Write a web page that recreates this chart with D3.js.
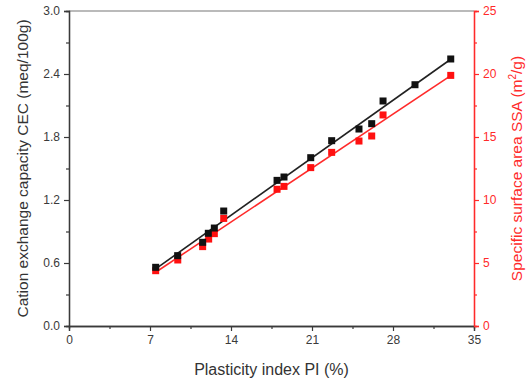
<!DOCTYPE html>
<html>
<head>
<meta charset="utf-8">
<script src="https://cdn.jsdelivr.net/npm/d3@7"></script>
<style>
  body { margin: 0; background: #fff; }
  text { font-family: "Liberation Sans", Arial, sans-serif; }
</style>
</head>
<body>
<svg width="532" height="385"></svg>
<script>
// plasticity index PI (%)
const piCec = [7.49, 9.39, 11.55, 12.04, 12.56, 13.37, 17.98, 18.58, 20.89, 22.70, 25.06, 26.16, 27.14, 29.90, 32.99]
const cec = [0.559, 0.670, 0.797, 0.883, 0.933, 1.095, 1.387, 1.419, 1.603, 1.765, 1.876, 1.927, 2.143, 2.298, 2.543]
const piSsa = [7.49, 9.40, 11.55, 12.07, 12.56, 13.37, 17.98, 18.58, 20.89, 22.70, 25.06, 26.16, 27.14, 32.99]
const ssa = [4.39, 5.24, 6.30, 6.90, 7.33, 8.54, 10.85, 11.08, 12.57, 13.78, 14.68, 15.08, 16.75, 19.89]

const xTicks = [0, 7, 14, 21, 28, 35]
const cecTicks = [0, 0.6, 1.2, 1.8, 2.4, 3.0]
const ssaTicks = [0, 5, 10, 15, 20, 25]

const svg = d3.select("svg")
const margin = {left: 69, right: 58, top: 11, bottom: 59}
const width = +svg.attr("width") - margin.left - margin.right,
    height = +svg.attr("height") - margin.top - margin.bottom

const axisColor = "#3a3a3a", red = "#ff2a2a"

const x = d3.scaleLinear().domain([0, 35]).range([0, width])
const yL = d3.scaleLinear().domain([0, 3]).range([height, 0])
const yR = d3.scaleLinear().domain([0, 25]).range([height, 0])

const g = svg.append("g").attr("transform", `translate(${margin.left},${margin.top})`)

// least squares fit
function fit(xs, ys) {
    const mx = d3.mean(xs), my = d3.mean(ys)
    let sxy = 0, sxx = 0
    xs.forEach((v, i) => { sxy += (v - mx) * (ys[i] - my); sxx += (v - mx) * (v - mx) })
    const b = sxy / sxx
    return v => my + b * (v - mx)
}

////////////////////////
// axes
function styleAxis(sel, color) {
    sel.select(".domain").attr("stroke", color).attr("stroke-width", 1.3)
    sel.selectAll(".tick line").attr("stroke", color).attr("stroke-width", 1.2)
    sel.selectAll(".tick text").attr("fill", color).style("font-size", "12px")
}

// minor ticks first
g.append("g").attr("transform", `translate(0,${height})`)
    .call(d3.axisBottom(x).tickValues(d3.range(3.5, 35, 7)).tickSize(3).tickFormat(""))
    .call(s => styleAxis(s, axisColor))
g.append("g")
    .call(d3.axisLeft(yL).tickValues(d3.range(0.3, 3, 0.6)).tickSize(3).tickFormat(""))
    .call(s => styleAxis(s, axisColor))
g.append("g").attr("transform", `translate(${width},0)`)
    .call(d3.axisRight(yR).tickValues(d3.range(2.5, 25, 5)).tickSize(3).tickFormat(""))
    .call(s => styleAxis(s, red))

g.append("line").attr("x1", 0).attr("x2", width).attr("y1", 0).attr("y2", 0)
    .attr("stroke", "#777").attr("stroke-width", 1.2)

g.append("g").attr("transform", `translate(0,${height})`)
    .call(d3.axisBottom(x).tickValues(xTicks).tickSize(5).tickPadding(4).tickFormat(d3.format("d")))
    .call(s => styleAxis(s, axisColor))
g.append("g")
    .call(d3.axisLeft(yL).tickValues(cecTicks).tickSize(5).tickPadding(4).tickFormat(d3.format(".1f")))
    .call(s => styleAxis(s, axisColor))
g.append("g").attr("transform", `translate(${width},0)`)
    .call(d3.axisRight(yR).tickValues(ssaTicks).tickSize(5).tickPadding(4).tickFormat(d3.format("d")))
    .call(s => styleAxis(s, red))

////////////////////////
// fit lines
const fCec = fit(piCec, cec), fSsa = fit(piSsa, ssa)
const xrC = d3.extent(piCec), xrS = d3.extent(piSsa)
g.append("line")
    .attr("x1", x(xrC[0])).attr("y1", yL(fCec(xrC[0])))
    .attr("x2", x(xrC[1])).attr("y2", yL(fCec(xrC[1])))
    .attr("stroke", "#222").attr("stroke-width", 1.6)
g.append("line")
    .attr("x1", x(xrS[0])).attr("y1", yR(fSsa(xrS[0])))
    .attr("x2", x(xrS[1])).attr("y2", yR(fSsa(xrS[1])))
    .attr("stroke", red).attr("stroke-width", 1.6)

// markers
const s = 7
g.selectAll(".ssaPt").data(piSsa).enter().append("rect")
    .attr("class", "ssaPt")
    .attr("x", d => x(d) - s / 2).attr("y", (d, i) => yR(ssa[i]) - s / 2)
    .attr("width", s).attr("height", s).attr("fill", "#ff1010")
g.selectAll(".cecPt").data(piCec).enter().append("rect")
    .attr("class", "cecPt")
    .attr("x", d => x(d) - s / 2).attr("y", (d, i) => yL(cec[i]) - s / 2)
    .attr("width", s).attr("height", s).attr("fill", "#111")

////////////////////////
// titles
svg.append("text")
    .attr("x", margin.left + width / 2).attr("y", 375)
    .attr("text-anchor", "middle").attr("fill", "#333").style("font-size", "16px")
    .text("Plasticity index PI (%)")
svg.append("text")
    .attr("transform", `translate(28,${margin.top + height / 2}) rotate(-90)`)
    .attr("text-anchor", "middle").attr("fill", "#333").style("font-size", "15.5px")
    .text("Cation exchange capacity CEC (meq/100g)")
const rt = svg.append("text")
    .attr("transform", `translate(522,${margin.top + height / 2}) rotate(-90)`)
    .attr("text-anchor", "middle").attr("fill", red).style("font-size", "15.5px")
rt.append("tspan").text("Specific surface area SSA (m")
rt.append("tspan").attr("dy", -6).style("font-size", "10px").text("2")
rt.append("tspan").attr("dy", 6).text("/g)")
</script>
</body>
</html>
